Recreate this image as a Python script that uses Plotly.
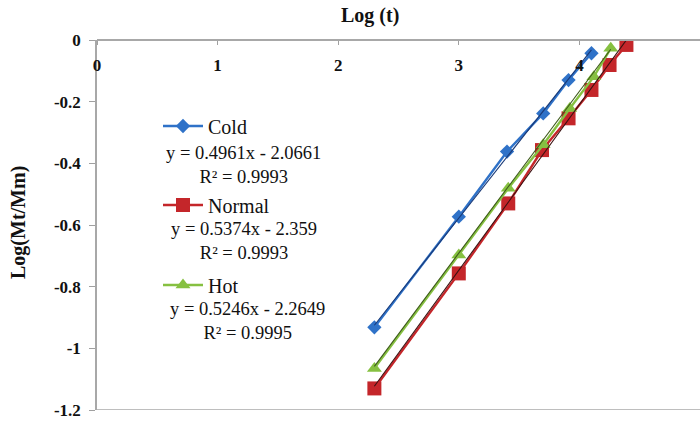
import plotly.graph_objects as go

# ---- data ----
cold_x = [2.30, 3.00, 3.40, 3.70, 3.91, 4.10]
cold_y = [-0.932, -0.573, -0.362, -0.238, -0.130, -0.043]
normal_x = [2.30, 3.00, 3.41, 3.69, 3.91, 4.10, 4.25, 4.39]
normal_y = [-1.130, -0.757, -0.530, -0.357, -0.254, -0.162, -0.081, -0.016]
hot_x = [2.30, 3.00, 3.41, 3.70, 3.92, 4.12, 4.26]
hot_y = [-1.065, -0.697, -0.481, -0.340, -0.222, -0.119, -0.027]

series_names = ["Cold", "Normal", "Hot"]
slopes = [0.4961, 0.5374, 0.5246]
intercepts = [-2.0661, -2.359, -2.2649]
r2 = ["0.9993", "0.9993", "0.9995"]
eq_text = ["y = 0.4961x - 2.0661", "y = 0.5374x - 2.359", "y = 0.5246x - 2.2649"]

x_ticks = [0, 1, 2, 3, 4, 5]
y_ticks = [0, -0.2, -0.4, -0.6, -0.8, -1, -1.2]
y_tick_labels = ["0", "-0.2", "-0.4", "-0.6", "-0.8", "-1", "-1.2"]

colors = ["#2f72c8", "#c4262a", "#86c041"]
trend_colors = ["#1a3a78", "#3a1010", "#3d5a1a"]
symbols = ["diamond", "square", "triangle-up"]
msizes = [11, 14, 13]

FONT = "Liberation Serif"

fig = go.Figure()
xs = [cold_x, normal_x, hot_x]
ys = [cold_y, normal_y, hot_y]
legends = ["legend", "legend2", "legend3"]

for i in range(3):
    fig.add_trace(go.Scatter(
        x=xs[i], y=ys[i], mode="lines+markers", name=series_names[i],
        line=dict(color=colors[i], width=2.4),
        marker=dict(symbol=symbols[i], size=msizes[i], color=colors[i]),
        legend=legends[i], showlegend=True))
for i in range(3):
    tx = [min(xs[i]), max(xs[i])]
    ty = [slopes[i] * v + intercepts[i] for v in tx]
    fig.add_trace(go.Scatter(
        x=tx, y=ty, mode="lines", line=dict(color=trend_colors[i], width=1.1),
        showlegend=False, hoverinfo="skip"))

L, R, T, B = 97, 0, 40, 13
W, H = 700, 423
pw, ph = W - L - R, H - T - B

def px_x(p):
    return (p - L) / pw

def px_y(p):
    return (H - B - p) / ph

leg_common = dict(font=dict(family=FONT, size=20, color="#111"),
                  bgcolor="rgba(0,0,0,0)", xanchor="left", yanchor="middle",
                  itemwidth=40, tracegroupgap=0)
leg_y = [126, 205, 285]
fig.update_layout(
    legend=dict(x=px_x(158), y=px_y(leg_y[0]), **leg_common),
    legend2=dict(x=px_x(158), y=px_y(leg_y[1]), **leg_common),
    legend3=dict(x=px_x(158), y=px_y(leg_y[2]), **leg_common),
)

eq_centers = [165, 241, 321]
eq_x = [243, 244, 247]
for i in range(3):
    fig.add_annotation(
        x=px_x(eq_x[i]), y=px_y(eq_centers[i]), xref="paper", yref="paper",
        text=eq_text[i] + "<br>R² = " + r2[i], showarrow=False,
        font=dict(family=FONT, size=18.5, color="#111"), align="center",
        xanchor="center", yanchor="middle")

fig.add_annotation(x=px_x(370), y=px_y(15), xref="paper", yref="paper",
                   text="<b>Log (t)</b>", showarrow=False,
                   font=dict(family=FONT, size=20, color="#111"),
                   xanchor="center", yanchor="middle")
fig.add_annotation(x=px_x(18), y=px_y(223), xref="paper", yref="paper",
                   text="<b>Log(Mt/Mm)</b>", showarrow=False, textangle=-90,
                   font=dict(family=FONT, size=20, color="#111"),
                   xanchor="center", yanchor="middle")

# bottom border of plot area
fig.add_shape(type="line", xref="paper", yref="y", x0=0, x1=1, y0=-1.2, y1=-1.2,
              line=dict(color="#a8a8a8", width=1.5))

fig.update_xaxes(range=[0, 5], side="bottom", anchor="free", position=1,
                 tickvals=x_ticks, ticktext=[str(v) for v in x_ticks],
                 ticks="outside", ticklen=4, tickcolor="#a0a0a0",
                 ticklabelstandoff=6, automargin=False,
                 showline=True, linecolor="#a8a8a8", linewidth=1.5,
                 showgrid=False, zeroline=False,
                 tickfont=dict(family=FONT, size=17, color="#111", weight="bold"))
fig.update_yaxes(range=[-1.2, 0], tickvals=y_ticks, ticktext=y_tick_labels,
                 ticks="outside", ticklen=6, tickcolor="#a0a0a0",
                 ticklabelstandoff=5, automargin=False,
                 showline=True, linecolor="#a8a8a8", linewidth=1.5,
                 showgrid=False, zeroline=False,
                 tickfont=dict(family=FONT, size=17, color="#111", weight="bold"))

fig.update_layout(width=W, height=H, margin=dict(l=L, r=R, t=T, b=B),
                  plot_bgcolor="white", paper_bgcolor="white")

fig.write_html("out.html", config={"displayModeBar": False},
               post_script="document.body.style.margin='0';")
